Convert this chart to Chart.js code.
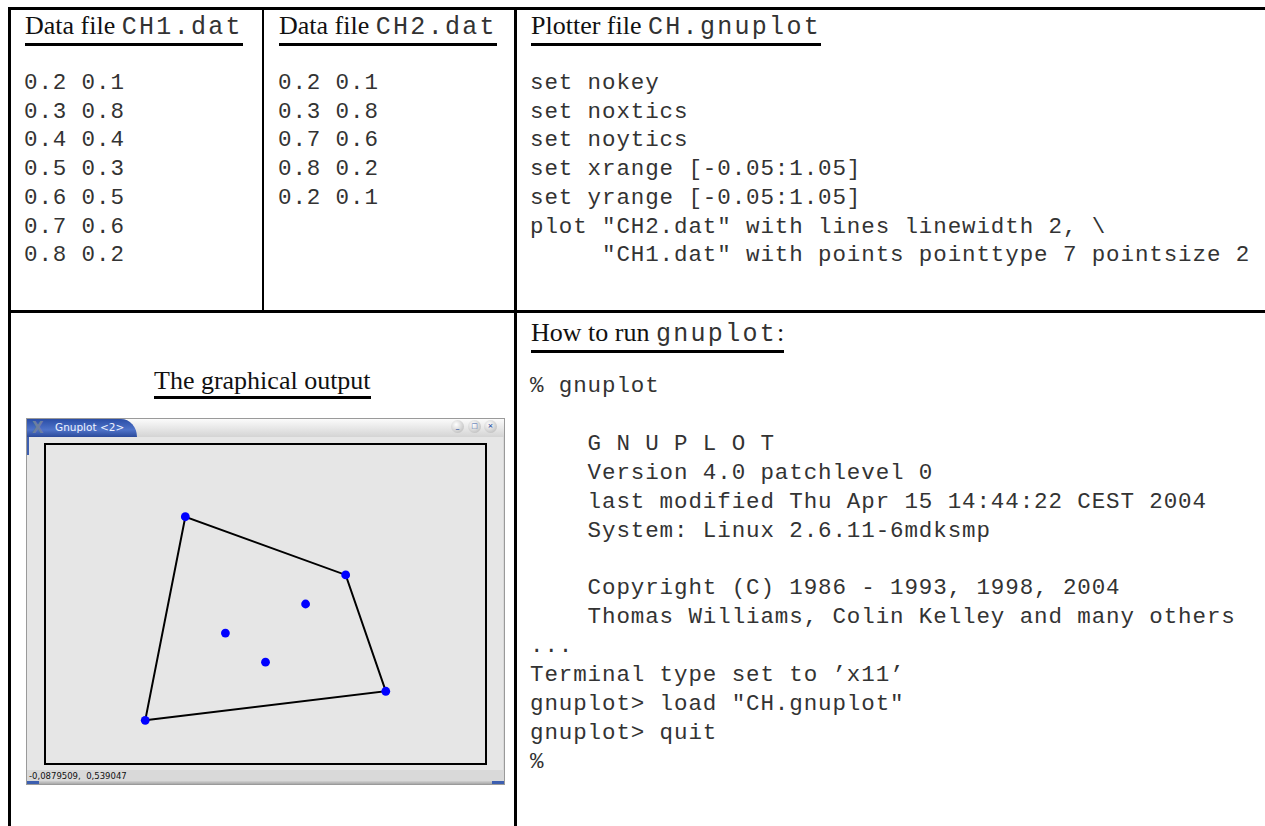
<!DOCTYPE html>
<html>
<head>
<meta charset="utf-8">
<script src="https://cdn.jsdelivr.net/npm/chart.js@4.4.1/dist/chart.umd.min.js"></script>
<style>
  html, body { margin: 0; padding: 0; background: #fff; width: 1265px; height: 826px; overflow: hidden; }
  .abs { position: absolute; }
  .rule { position: absolute; background: #000; }
  .head { position: absolute; font-family: "Liberation Serif", serif; font-size: 26px; line-height: 27px;
          color: #111; white-space: nowrap; padding-bottom: 2px; border-bottom: 3px solid #000; }
  .head tt { font-family: "Liberation Mono", monospace; font-size: 25px; letter-spacing: 2.3px; color: #333; }
  pre { position: absolute; margin: 0; font-family: "Liberation Mono", monospace; font-size: 22.5px;
        letter-spacing: 0.9px; line-height: 28.7px; color: #333; }
  #win { left: 26px; top: 418px; width: 479px; height: 367px; background: #d9d9d9;
         box-sizing: border-box; border: 1px solid #9a9a9a; }
  #titlebar { left: 27px; top: 419px; width: 477px; height: 18px;
              background: linear-gradient(#fbfbfb, #d4d4d4); }
  #tab { left: 27px; top: 419px; width: 110px; height: 18px; border-top-right-radius: 16px 18px;
         background: linear-gradient(#2a4da6, #4f73c9 60%, #2b4a9a); }
  #tabtext { left: 55px; top: 421px; font: 10.5px "DejaVu Sans", sans-serif; color: #eef3ff; }
  #xlogo { left: 32px; top: 419px; font: bold 15px "DejaVu Sans", sans-serif; color: #6d7f9f; }
  .btn { position: absolute; top: 420px; width: 13px; height: 13px; border-radius: 50%;
         background: radial-gradient(circle at 40% 35%, #ffffff, #c8c8c8 70%, #9e9e9e);
         font: bold 7px "DejaVu Sans", sans-serif; color: #3b5ca8; text-align: center; line-height: 13px; }
  #plotbox { left: 27px; top: 437px; width: 476px; height: 333px; background: #e6e6e6; }
  #leftblue { left: 27px; top: 437px; width: 2px; height: 18px; background: #3d5fb0; }
  #status { left: 29px; top: 771px; font: 8.5px "DejaVu Sans", sans-serif; color: #111; }
  #bottom { left: 27px; top: 781px; width: 477px; height: 3px; background: linear-gradient(#d0d0d0, #a8a8a8); }
  .bcorner { position: absolute; top: 781px; width: 12px; height: 3px; background: #3d5fb0; }
</style>
</head>
<body>

<!-- table rules -->
<div class="rule" style="left:8px; top:7px; width:1257px; height:3px;"></div>
<div class="rule" style="left:8px; top:7px; width:3px; height:819px;"></div>
<div class="rule" style="left:262px; top:7px; width:2px; height:305px;"></div>
<div class="rule" style="left:514px; top:7px; width:3px; height:819px;"></div>
<div class="rule" style="left:8px; top:310px; width:1257px; height:3px;"></div>

<!-- headers -->
<div class="head" style="left:25px; top:12px;">Data file <tt>CH1.dat</tt></div>
<div class="head" style="left:279px; top:12px;">Data file <tt>CH2.dat</tt></div>
<div class="head" style="left:531px; top:12px;">Plotter file <tt>CH.gnuplot</tt></div>
<div class="head" style="left:531px; top:319px;">How to run <tt>gnuplot</tt>:</div>
<div class="head" style="left:154px; top:367px;">The graphical output</div>

<pre id="ch1text" style="left:24px; top:69px;"></pre>
<pre id="ch2text" style="left:278px; top:69px;"></pre>
<pre style="left:530px; top:69px;">set nokey
set noxtics
set noytics
set xrange [-0.05:1.05]
set yrange [-0.05:1.05]
plot "CH2.dat" with lines linewidth 2, \
     "CH1.dat" with points pointtype 7 pointsize 2</pre>
<pre style="left:530px; top:372px; line-height:28.9px;">% gnuplot

    G N U P L O T
    Version 4.0 patchlevel 0
    last modified Thu Apr 15 14:44:22 CEST 2004
    System: Linux 2.6.11-6mdksmp

    Copyright (C) 1986 - 1993, 1998, 2004
    Thomas Williams, Colin Kelley and many others
...
Terminal type set to ’x11’
gnuplot&gt; load "CH.gnuplot"
gnuplot&gt; quit
%</pre>

<!-- gnuplot window -->
<div id="win" class="abs"></div>
<div id="titlebar" class="abs"></div>
<div id="tab" class="abs"></div>
<div id="xlogo" class="abs">X</div>
<div id="tabtext" class="abs">Gnuplot &lt;2&gt;</div>
<div class="btn" style="left:451px;">_</div>
<div class="btn" style="left:468px;">□</div>
<div class="btn" style="left:484px;">×</div>
<div id="plotbox" class="abs"><canvas id="plot"></canvas></div>
<div id="leftblue" class="abs"></div>
<div id="status" class="abs">-0,0879509,&nbsp;&nbsp;0,539047</div>
<div id="bottom" class="abs"></div>
<div class="bcorner" style="left:27px;"></div>
<div class="bcorner" style="left:492px;"></div>

<script>
// CH1.dat - plotted as points
const ch1X = [0.2, 0.3, 0.4, 0.5, 0.6, 0.7, 0.8];
const ch1Y = [0.1, 0.8, 0.4, 0.3, 0.5, 0.6, 0.2];
// CH2.dat - plotted as a closed line
const ch2X = [0.2, 0.3, 0.7, 0.8, 0.2];
const ch2Y = [0.1, 0.8, 0.6, 0.2, 0.1];
// set xrange / yrange
const rangeMin = -0.05;
const rangeMax = 1.05;

function toPoints(xs, ys) {
    return xs.map((x, i) => ({ x: x, y: ys[i] }));
}

function toText(xs, ys) {
    return xs.map((x, i) => x.toFixed(1) + ' ' + ys[i].toFixed(1)).join('\n');
}

document.getElementById('ch1text').textContent = toText(ch1X, ch1Y);
document.getElementById('ch2text').textContent = toText(ch2X, ch2Y);

// gnuplot draws a frame round the plot area
const borderPlugin = {
    id: 'border',
    afterDraw(chart) {
        const a = chart.chartArea;
        const ctx = chart.ctx;
        ctx.save();
        ctx.strokeStyle = '#000';
        ctx.lineWidth = 2;
        ctx.strokeRect(a.left, a.top, a.right - a.left, a.bottom - a.top);
        ctx.restore();
    }
};

let ctx = document.getElementById('plot').getContext('2d');
new Chart(ctx, {
    type: 'scatter',
    data: {
        datasets: [{
            label: 'CH2.dat',
            data: toPoints(ch2X, ch2Y),
            showLine: true,
            borderColor: '#000',
            borderWidth: 2,
            pointRadius: 0,
            order: 2
        }, {
            label: 'CH1.dat',
            data: toPoints(ch1X, ch1Y),
            backgroundColor: '#0000ff',
            borderColor: '#0000ff',
            pointRadius: 4.4,
            borderWidth: 0,
            order: 1
        }]
    },
    options: {
        responsive: true,
        maintainAspectRatio: false,
        animation: false,
        layout: { padding: { left: 18, right: 17, top: 7, bottom: 6 } },
        scales: {
            x: { type: 'linear', min: rangeMin, max: rangeMax, display: false },
            y: { type: 'linear', min: rangeMin, max: rangeMax, display: false }
        },
        plugins: { legend: { display: false }, tooltip: { enabled: false } }
    },
    plugins: [borderPlugin]
});
</script>
</body>
</html>
